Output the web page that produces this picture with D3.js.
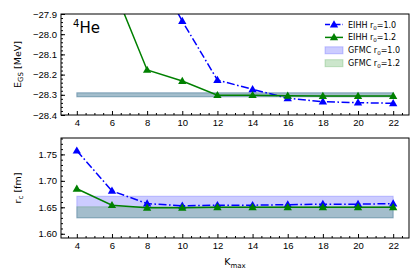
<!DOCTYPE html>
<html>
<head>
<meta charset="utf-8">
<script src="https://cdn.jsdelivr.net/npm/d3@7"></script>
<style>
  body { margin: 0; background: #fff; }
  svg { font-family: "DejaVu Sans", sans-serif; }
  .tick text { font-size: 9.5px; fill: #000; }
  .tick line { stroke: #000; }
</style>
</head>
<body>
<div id="chart"></div>
<script>
// DATA
const kmax = [4, 6, 8, 10, 12, 14, 16, 18, 20, 22];
const xTicks = [4, 6, 8, 10, 12, 14, 16, 18, 20, 22];

// ground state energy [MeV]
const eEihh10 = [-25.0, -26.9, -27.62, -27.935, -28.227, -28.273, -28.317, -28.334, -28.339, -28.342];
const eEihh12 = [-27.0, -27.75, -28.177, -28.232, -28.302, -28.302, -28.305, -28.306, -28.306, -28.306];
const eGfmc10 = [-28.31, -28.29];
const eGfmc12 = [-28.31, -28.29];

// charge radius [fm]
const rEihh10 = [1.757, 1.681, 1.657, 1.653, 1.654, 1.654, 1.655, 1.656, 1.656, 1.657];
const rEihh12 = [1.685, 1.654, 1.649, 1.649, 1.650, 1.650, 1.650, 1.650, 1.650, 1.650];
const rGfmc10 = [1.630, 1.671];
const rGfmc12 = [1.630, 1.651];

const eTicks = [-27.9, -28.0, -28.1, -28.2, -28.3, -28.4];
const rTicks = [1.60, 1.65, 1.70, 1.75];

const W = 420, H = 280;
const left = 61, right = 409;

const svg = d3.select('#chart').append('svg')
  .attr('width', W).attr('height', H);

const xScale = d3.scaleLinear().domain([3.1, 22.9]).range([left, right]);
const xMinor = d3.range(3.5, 23, 0.5).filter(d => d % 2 !== 0);

const BLUE = '#0000ff', GREEN = '#008000';

function panel(id, top, bottom, yDomain, yTicks, yMinorStep, fmt, eihh10, eihh12, gfmc10, gfmc12) {
  const yScale = d3.scaleLinear().domain(yDomain).range([bottom, top]);
  const g = svg.append('g').attr('class', id);

  svg.append('clipPath').attr('id', 'clip-' + id)
    .append('rect').attr('x', left).attr('y', top)
    .attr('width', right - left).attr('height', bottom - top);

  // bands
  const bands = [[gfmc10, BLUE], [gfmc12, GREEN]];
  bands.forEach(([b, c]) => {
    g.append('rect')
      .attr('x', xScale(kmax[0]))
      .attr('width', xScale(kmax[kmax.length - 1]) - xScale(kmax[0]))
      .attr('y', yScale(b[1]))
      .attr('height', yScale(b[0]) - yScale(b[1]))
      .attr('fill', c).attr('fill-opacity', 0.2)
      .attr('stroke', c).attr('stroke-opacity', 0.2).attr('stroke-width', 1);
  });

  // lines
  const plot = g.append('g').attr('clip-path', 'url(#clip-' + id + ')');
  const line = d3.line().x((d, i) => xScale(kmax[i])).y(d => yScale(d));
  const series = [
    {vals: eihh10, color: BLUE, dash: '8,2.5,1.6,2.5'},
    {vals: eihh12, color: GREEN, dash: null}
  ];
  series.forEach(s => {
    plot.append('path').datum(s.vals)
      .attr('d', line)
      .attr('fill', 'none')
      .attr('stroke', s.color)
      .attr('stroke-width', 1.5)
      .attr('stroke-dasharray', s.dash);
    plot.selectAll(null).data(s.vals).enter().append('path')
      .attr('d', d3.symbol(d3.symbolTriangle, 30))
      .attr('transform', (d, i) => 'translate(' + xScale(kmax[i]) + ',' + (yScale(d) + 0.5) + ')')
      .attr('fill', s.color);
  });

  // AXES
  const yAxis = d3.axisLeft(yScale).tickValues(yTicks).tickFormat(d3.format(fmt))
    .tickSizeInner(-4).tickSizeOuter(0).tickPadding(4);
  const ya = g.append('g').attr('transform', 'translate(' + left + ',0)').call(yAxis);
  ya.select('.domain').remove();

  const [y0, y1] = yScale.domain();
  const yMinorVals = d3.range(Math.ceil(y0 / yMinorStep), Math.floor(y1 / yMinorStep) + 1)
    .map(k => k * yMinorStep);
  const ym = g.append('g').attr('transform', 'translate(' + left + ',0)')
    .call(d3.axisLeft(yScale).tickValues(yMinorVals).tickFormat('').tickSizeInner(-2).tickSizeOuter(0));
  ym.select('.domain').remove();

  const xAxis = d3.axisBottom(xScale).tickValues(xTicks).tickFormat(d3.format('d'))
    .tickSizeInner(-4).tickSizeOuter(0).tickPadding(4);
  const xa = g.append('g').attr('transform', 'translate(0,' + bottom + ')').call(xAxis);
  xa.select('.domain').remove();
  const xm = g.append('g').attr('transform', 'translate(0,' + bottom + ')')
    .call(d3.axisBottom(xScale).tickValues(xMinor).tickFormat('').tickSizeInner(-2).tickSizeOuter(0));
  xm.select('.domain').remove();

  g.append('rect')
    .attr('x', left).attr('y', top)
    .attr('width', right - left).attr('height', bottom - top)
    .attr('fill', 'none').attr('stroke', '#000').attr('stroke-width', 1);

  return {g, yScale};
}

const p1 = panel('energy', 14, 115, [-28.4, -27.9], eTicks, 0.02, '.1f', eEihh10, eEihh12, eGfmc10, eGfmc12);
const p2 = panel('radius', 138, 238, [1.592, 1.781], rTicks, 0.01, '.2f', rEihh10, rEihh12, rGfmc10, rGfmc12);

// LABELS
const eLab = svg.append('text')
  .attr('transform', 'translate(21,64.5) rotate(-90)')
  .attr('text-anchor', 'middle').attr('font-size', 9.5);
eLab.append('tspan').text('E');
eLab.append('tspan').attr('font-size', 7).attr('dy', 2).text('GS');
eLab.append('tspan').attr('dy', -2).text(' [MeV]');

const rLab = svg.append('text')
  .attr('transform', 'translate(21,188) rotate(-90)')
  .attr('text-anchor', 'middle').attr('font-size', 9.5);
rLab.append('tspan').text('r');
rLab.append('tspan').attr('font-size', 7).attr('dy', 2).text('c');
rLab.append('tspan').attr('dy', -2).text(' [fm]');

const kLab = svg.append('text')
  .attr('x', 235).attr('y', 265)
  .attr('text-anchor', 'middle').attr('font-size', 9.5);
kLab.append('tspan').text('K');
kLab.append('tspan').attr('font-size', 7).attr('dy', 2.5).text('max');

const he = svg.append('text').attr('x', 73).attr('y', 33).attr('font-size', 15);
he.append('tspan').attr('font-size', 10).attr('dy', -6).text('4');
he.append('tspan').attr('dy', 6).text('He');

// LEGEND
const legendItems = [
  {label: 'EIHH r', sub: '0', rest: '=1.0', type: 'line', color: BLUE, dash: '5,2,1.5,2'},
  {label: 'EIHH r', sub: '0', rest: '=1.2', type: 'line', color: GREEN, dash: null},
  {label: 'GFMC r', sub: '0', rest: '=1.0', type: 'patch', color: BLUE},
  {label: 'GFMC r', sub: '0', rest: '=1.2', type: 'patch', color: GREEN}
];
const legend = svg.append('g').attr('class', 'legend');
const rows = legend.selectAll('g.row').data(legendItems).enter().append('g')
  .attr('class', 'row')
  .attr('transform', (d, i) => 'translate(325,' + (24.5 + i * 12.9) + ')');
rows.filter(d => d.type === 'line').each(function (d) {
  const r = d3.select(this);
  r.append('line').attr('x1', 0).attr('x2', 18).attr('y1', 0).attr('y2', 0)
    .attr('stroke', d.color).attr('stroke-width', 1.5).attr('stroke-dasharray', d.dash);
  r.append('path').attr('d', d3.symbol(d3.symbolTriangle, 30))
    .attr('transform', 'translate(9,0.5)').attr('fill', d.color);
});
rows.filter(d => d.type === 'patch').append('rect')
  .attr('x', 0).attr('y', -3.5).attr('width', 18).attr('height', 7)
  .attr('fill', d => d.color).attr('fill-opacity', 0.2)
  .attr('stroke', d => d.color).attr('stroke-opacity', 0.2);
const lt = rows.append('text').attr('x', 23).attr('y', 3).attr('font-size', 8);
lt.append('tspan').text(d => d.label);
lt.append('tspan').attr('font-size', 5.5).attr('dy', 2).text(d => d.sub);
lt.append('tspan').attr('dy', -2).text(d => d.rest);
</script>
</body>
</html>
